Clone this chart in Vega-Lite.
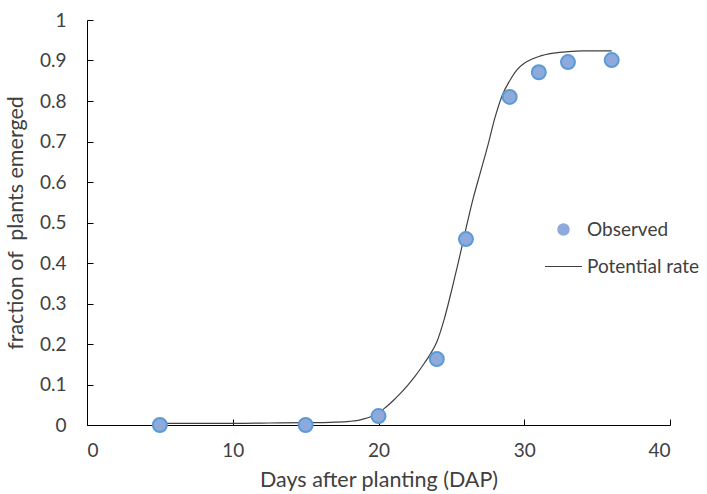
{
  "$schema": "https://vega.github.io/schema/vega-lite/v6.json",
  "width": 583,
  "height": 405,
  "autosize": {"type": "none"},
  "padding": {"left": 87, "top": 20, "right": 37, "bottom": 69},
  "background": "white",
  "config": {
    "view": {"stroke": null},
    "font": "Lato",
    "axis": {
      "grid": false,
      "domainColor": "#000000",
      "tickColor": "#000000",
      "labelColor": "#404040",
      "titleColor": "#404040",
      "labelFont": "Lato",
      "titleFont": "Lato",
      "labelFontSize": 19,
      "titleFontSize": 21.5,
      "titleFontWeight": "normal"
    },
    "legend": {"labelFont": "Lato", "labelFontSize": 19, "labelColor": "#404040"}
  },
  "datasets": {
    "obs": [
      {"day": 5, "frac": 0.0},
      {"day": 15, "frac": 0.0},
      {"day": 20, "frac": 0.022},
      {"day": 24, "frac": 0.163},
      {"day": 26, "frac": 0.459},
      {"day": 29, "frac": 0.81},
      {"day": 31, "frac": 0.871},
      {"day": 33, "frac": 0.896},
      {"day": 36, "frac": 0.901}
    ],
    "curve": [
      {"day": 5, "frac": 0.004},
      {"day": 10, "frac": 0.004},
      {"day": 15, "frac": 0.006},
      {"day": 16, "frac": 0.006},
      {"day": 17, "frac": 0.007},
      {"day": 18, "frac": 0.009},
      {"day": 18.5, "frac": 0.011},
      {"day": 19, "frac": 0.015},
      {"day": 19.5, "frac": 0.021},
      {"day": 20, "frac": 0.03},
      {"day": 20.5, "frac": 0.044},
      {"day": 21, "frac": 0.06},
      {"day": 21.5, "frac": 0.078},
      {"day": 22, "frac": 0.098},
      {"day": 22.5, "frac": 0.12},
      {"day": 23, "frac": 0.145},
      {"day": 23.5, "frac": 0.172},
      {"day": 24, "frac": 0.205},
      {"day": 24.5, "frac": 0.26},
      {"day": 25, "frac": 0.33},
      {"day": 25.5, "frac": 0.405},
      {"day": 26, "frac": 0.485},
      {"day": 26.5, "frac": 0.56},
      {"day": 27, "frac": 0.625},
      {"day": 27.5, "frac": 0.69},
      {"day": 28, "frac": 0.76},
      {"day": 28.5, "frac": 0.815},
      {"day": 29, "frac": 0.85},
      {"day": 29.5, "frac": 0.877},
      {"day": 30, "frac": 0.893},
      {"day": 30.5, "frac": 0.903},
      {"day": 31, "frac": 0.91},
      {"day": 32, "frac": 0.918},
      {"day": 33, "frac": 0.922},
      {"day": 34, "frac": 0.924},
      {"day": 35, "frac": 0.924},
      {"day": 36, "frac": 0.924}
    ]
  },
  "layer": [
    {
      "data": {"name": "curve"},
      "mark": {"type": "line", "strokeWidth": 1.2, "interpolate": "monotone"},
      "encoding": {
        "x": {
          "field": "day",
          "type": "quantitative",
          "scale": {"domain": [0, 40], "nice": false},
          "axis": {
            "title": "Days after planting (DAP)",
            "values": [0, 10, 20, 30, 40],
            "tickSize": -6,
            "labelPadding": 22,
            "titleY": 44
          }
        },
        "y": {
          "field": "frac",
          "type": "quantitative",
          "scale": {"domain": [0, 1], "nice": false},
          "axis": {
            "title": "fraction of \u00a0plants emerged",
            "values": [0, 0.1, 0.2, 0.3, 0.4, 0.5, 0.6, 0.7, 0.8, 0.9, 1],
            "format": "~g",
            "tickSize": -6,
            "labelPadding": 27,
            "titleX": -60
          }
        },
        "color": {
          "datum": "Potential rate",
          "type": "nominal",
          "scale": {"domain": ["Observed", "Potential rate"], "range": ["#8EA9DB", "#404040"]},
          "legend": {
            "title": null,
            "orient": "none",
            "legendX": 467,
            "legendY": 200,
            "padding": 0,
            "symbolSize": 1369,
            "rowPadding": 17,
            "labelOffset": 14,
            "encode": {
              "symbols": {
                "update": {
                  "shape": {"signal": "datum.value === 'Observed' ? 'circle' : 'stroke'"},
                  "fill": {"signal": "datum.value === 'Observed' ? '#8EA9DB' : 'transparent'"},
                  "stroke": {"signal": "datum.value === 'Observed' ? '#5B9BD5' : '#404040'"},
                  "size": {"signal": "datum.value === 'Observed' ? 121 : 1369"},
                  "strokeWidth": {"signal": "datum.value === 'Observed' ? 1.5 : 1.2"},
                  "opacity": {"value": 1}
                }
              }
            }
          }
        }
      }
    },
    {
      "data": {"name": "obs"},
      "mark": {"type": "point", "filled": true, "size": 196, "stroke": "#5B9BD5", "strokeWidth": 2, "opacity": 1},
      "encoding": {
        "x": {"field": "day", "type": "quantitative"},
        "y": {"field": "frac", "type": "quantitative"},
        "color": {"datum": "Observed", "type": "nominal"}
      }
    }
  ]
}
